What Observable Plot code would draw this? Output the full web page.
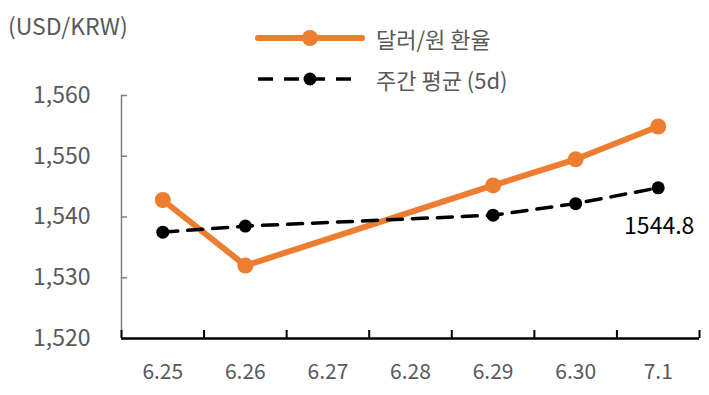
<!DOCTYPE html>
<html><head><meta charset="utf-8">
<script src="https://cdn.jsdelivr.net/npm/d3@7"></script>
<script src="https://cdn.jsdelivr.net/npm/@observablehq/plot@0.6"></script>
<style>
body{margin:0;background:#fff;font-family:"Noto Sans CJK KR","Noto Sans",sans-serif;}
#wrap{position:relative;width:709px;height:395px;overflow:hidden;}
#wrap svg.plot{position:absolute;left:0;top:0;}
.unit{position:absolute;left:8px;top:8px;font-size:23px;color:#595959;line-height:34px;}
.leg{position:absolute;left:250px;display:flex;align-items:center;font-size:22px;color:#595959;height:34px;}
.leg svg{margin-right:10px;}
</style></head><body><div id="wrap"></div>
<script>
const categories = ["6.25","6.26","6.27","6.28","6.29","6.30","7.1"];
const dataDates = ["6.25","6.26","6.29","6.30","7.1"];
const rateValues = [1542.8, 1532.0, 1545.2, 1549.5, 1554.9];
const avgValues = [1537.5, 1538.5, 1540.3, 1542.2, 1544.8];
const yTicks = [1520, 1530, 1540, 1550, 1560];
const seriesNames = ["달러/원 환율", "주간 평균 (5d)"];
const unitLabel = "(USD/KRW)";
const lastLabel = "1544.8";

const orange = "#ED7D31";
const idx = d => categories.indexOf(d);
const rate = dataDates.map((d, i) => ({x: idx(d), y: rateValues[i]}));
const avg = dataDates.map((d, i) => ({x: idx(d), y: avgValues[i]}));
const boundaries = d3.range(categories.length + 1).map(i => i - 0.5);
const last = avg[avg.length - 1];

const chart = Plot.plot({
  width: 709, height: 395,
  marginLeft: 121, marginRight: 10, marginTop: 95, marginBottom: 57,
  style: {fontFamily: '"Noto Sans CJK KR","Noto Sans",sans-serif', background: "transparent"},
  x: {type: "linear", domain: [-0.5, categories.length - 0.5], axis: null},
  y: {domain: [1520, 1560], axis: null},
  marks: [
    Plot.axisY({ticks: yTicks, tickSize: 0, tickPadding: 31, tickFormat: d3.format(","), fill: "#595959", fontSize: 23, label: null}),
    Plot.axisY({ticks: yTicks, tickSize: -6, tickFormat: () => "", stroke: "#7f7f7f", strokeWidth: 1.5, label: null}),
    Plot.ruleX([-0.5], {stroke: "#7f7f7f", strokeWidth: 1.5}),
    Plot.axisX({ticks: boundaries, tickSize: -8, tickFormat: () => "", stroke: "#000", strokeWidth: 2, label: null}),
    Plot.axisX({ticks: d3.range(categories.length), tickSize: 0, tickPadding: 26, tickFormat: i => categories[i], fill: "#595959", fontSize: 21, label: null}),
    Plot.ruleY([1520], {stroke: "#000", strokeWidth: 2.5}),
    Plot.line(rate, {x: "x", y: "y", stroke: orange, strokeWidth: 6}),
    Plot.dot(rate, {x: "x", y: "y", r: 8, fill: orange}),
    Plot.line(avg, {x: "x", y: "y", stroke: "#000", strokeWidth: 3.5, strokeDasharray: "15,10"}),
    Plot.dot(avg, {x: "x", y: "y", r: 6.5, fill: "#000"}),
    Plot.text([last], {x: "x", y: "y", text: () => lastLabel, dy: 39, dx: 1, fill: "#000", fontSize: 23})
  ]
});
chart.classList.add("plot");
const wrap = document.getElementById("wrap");
wrap.appendChild(chart);

const unit = document.createElement("div");
unit.className = "unit";
unit.textContent = unitLabel;
wrap.appendChild(unit);

const legs = [
  {top: 21, svg: `<svg width="116" height="20"><line x1="8" x2="112" y1="10" y2="10" stroke="${orange}" stroke-width="6" stroke-linecap="round"/><circle cx="60" cy="10" r="8" fill="${orange}"/></svg>`},
  {top: 62, svg: `<svg width="116" height="20"><line x1="8" x2="107" y1="10" y2="10" stroke="#000" stroke-width="3.5" stroke-dasharray="15,11"/><circle cx="60" cy="10" r="6.5" fill="#000"/></svg>`}
];
legs.forEach((l, i) => {
  const d = document.createElement("div");
  d.className = "leg";
  d.style.top = l.top + "px";
  d.innerHTML = l.svg + `<span>${seriesNames[i]}</span>`;
  wrap.appendChild(d);
});
</script>
</body></html>
